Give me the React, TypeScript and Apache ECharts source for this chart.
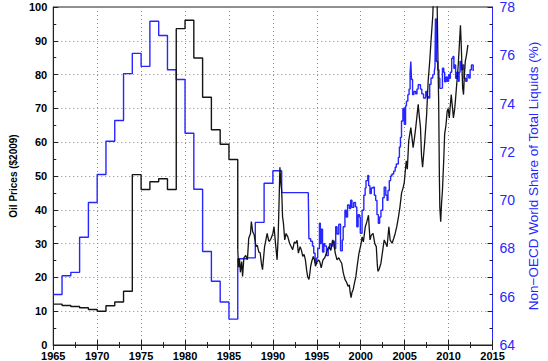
import React, { useEffect, useRef } from "react";
import * as echarts from "echarts";

// Annual oil prices ($2009), each value held from Jan 1 of the year to the next year
const oilAnnualYears = [1965, 1966, 1967, 1968, 1969, 1970, 1971, 1972, 1973, 1974, 1975, 1976, 1977, 1978, 1979, 1980, 1981, 1982, 1983, 1984, 1985];
const oilAnnualValues = [12.1, 11.7, 11.4, 11.0, 10.5, 10.0, 11.6, 12.7, 15.9, 50.4, 46.0, 48.3, 49.2, 46.0, 93.6, 96.1, 84.9, 73.3, 63.7, 59.4, 54.9];

// Monthly-ish oil prices from 1986 on: [year, $2009]
const oilMonthly: [number, number][] = [
  [1986.0, 28.2], [1986.1, 23], [1986.2, 25.5], [1986.3, 21.5], [1986.45, 24.7], [1986.55, 20.3], [1986.7, 25.8], [1986.9, 26.5],
  [1987.1, 25.2], [1987.25, 31.6], [1987.45, 33], [1987.55, 36.5], [1987.7, 33.5], [1987.87, 32.6], [1988.08, 29.1], [1988.23, 29.5],
  [1988.4, 27.5], [1988.55, 27.3], [1988.7, 24], [1988.82, 22.3], [1989.05, 29], [1989.2, 31], [1989.35, 33], [1989.5, 31],
  [1989.6, 30.6], [1989.8, 31.6], [1990.0, 33], [1990.13, 35], [1990.3, 30], [1990.48, 25.2], [1990.6, 32], [1990.7, 42],
  [1990.8, 52.6], [1990.9, 48], [1991.0, 45.7], [1991.1, 38], [1991.2, 36], [1991.35, 31.1], [1991.5, 33], [1991.7, 32],
  [1991.9, 30.1], [1992.1, 29], [1992.25, 28.2], [1992.45, 30.5], [1992.6, 30.1], [1992.75, 31], [1992.9, 27.2], [1993.1, 29.1],
  [1993.25, 28], [1993.4, 26.2], [1993.55, 26.8], [1993.7, 25.2], [1993.85, 22], [1993.95, 20.3], [1994.1, 19.4], [1994.2, 21],
  [1994.3, 23.3], [1994.45, 25], [1994.6, 26.2], [1994.75, 25], [1994.85, 23.3], [1995.0, 24.5], [1995.2, 25.2], [1995.35, 24.5],
  [1995.5, 22.8], [1995.7, 25.2], [1995.9, 25.8], [1996.1, 27.2], [1996.25, 28.5], [1996.4, 29.1], [1996.6, 28], [1996.8, 31.1],
  [1996.94, 30], [1997.1, 27.2], [1997.3, 25.2], [1997.5, 25.8], [1997.65, 25], [1997.83, 24.2], [1998.0, 21.5], [1998.2, 19.4],
  [1998.4, 18.5], [1998.55, 17.4], [1998.7, 17.8], [1998.8, 15.5], [1998.9, 14], [1999.0, 15.5], [1999.15, 16.5], [1999.3, 18.5],
  [1999.45, 20.3], [1999.6, 23.5], [1999.8, 27.2], [2000.0, 29.5], [2000.16, 32], [2000.3, 30.5], [2000.52, 35], [2000.7, 36.5],
  [2000.88, 38.4], [2001.05, 31.1], [2001.2, 32.5], [2001.4, 33], [2001.6, 30], [2001.77, 29.1], [2001.88, 24], [2001.95, 21.8],
  [2002.1, 22.5], [2002.3, 24.2], [2002.5, 28], [2002.67, 31.1], [2002.85, 30], [2003.0, 29.1], [2003.2, 35], [2003.35, 31],
  [2003.57, 30.1], [2003.75, 31.5], [2003.92, 33], [2004.1, 35], [2004.3, 38], [2004.46, 40.8], [2004.65, 45], [2004.82, 46.5],
  [2004.95, 48], [2005.18, 54.5], [2005.3, 52], [2005.46, 60.4], [2005.7, 64.3], [2005.96, 58.4], [2006.1, 61], [2006.26, 64.3],
  [2006.54, 71.2], [2006.65, 68], [2006.8, 64.3], [2006.92, 56], [2007.04, 52.6], [2007.26, 59.4], [2007.5, 68.2], [2007.67, 78],
  [2007.85, 83.9], [2008.0, 90], [2008.2, 97.5], [2008.35, 110], [2008.5, 138],
  [2008.6, 125], [2008.7, 100], [2008.8, 82], [2008.87, 72], [2008.95, 50], [2009.0, 40.8], [2009.1, 36.5], [2009.2, 42],
  [2009.3, 45.7], [2009.45, 55], [2009.55, 62.4], [2009.7, 65], [2009.84, 69.2], [2009.95, 70], [2010.08, 67.2], [2010.2, 71],
  [2010.3, 74.1], [2010.45, 70], [2010.55, 67.2], [2010.7, 70], [2010.8, 73.1], [2010.95, 78], [2011.1, 82.9], [2011.25, 90],
  [2011.35, 94.6], [2011.45, 88], [2011.5, 83.9], [2011.6, 76], [2011.7, 74.1], [2011.8, 80], [2011.9, 83.9], [2012.05, 86],
  [2012.2, 88.8],
];

// Non-OECD share of total liquids (%), annual 1965-1990
const shareAnnualYears = [1965, 1966, 1967, 1968, 1969, 1970, 1971, 1972, 1973, 1974, 1975, 1976, 1977, 1978, 1979, 1980, 1981, 1982, 1983, 1984, 1985, 1986, 1987, 1988, 1989, 1990];
const shareAnnualValues = [66.09, 66.87, 67.01, 68.46, 69.9, 71.06, 72.44, 73.3, 75.24, 76.08, 75.54, 77.41, 76.82, 75.4, 75.0, 72.77, 70.45, 67.87, 66.64, 65.78, 65.07, 67.57, 67.61, 69.08, 70.7, 71.22];

// Non-OECD share, 1991 on: [year, %]
const shareMonthly: [number, number][] = [
  [1991.0, 70.31], [1994.03, 70.2], [1994.1, 68.4], [1994.3, 68.3], [1994.5, 68.1], [1994.65, 67.8], [1994.8, 67.4], [1994.95, 67.6],
  [1995.1, 68.0], [1995.3, 69.04], [1995.4, 68.2], [1995.5, 68.8], [1995.65, 67.85], [1995.8, 68.2], [1995.9, 68.1], [1996.1, 67.7],
  [1996.3, 68.0], [1996.45, 68.2], [1996.6, 68.1], [1996.8, 68.3], [1997.0, 68.0], [1997.15, 68.9], [1997.3, 68.6], [1997.5, 69.0],
  [1997.7, 67.9], [1997.9, 68.35], [1998.0, 68.9], [1998.2, 69.58], [1998.35, 69.3], [1998.5, 69.8], [1998.7, 69.65], [1998.85, 70.0],
  [1999.0, 69.7], [1999.2, 69.9], [1999.4, 69.72], [1999.55, 68.9], [1999.7, 69.4], [1999.85, 69.3], [1999.95, 68.63], [2000.15, 69.58],
  [2000.35, 70.2], [2000.5, 70.5], [2000.6, 70.81], [2000.8, 71.02], [2000.9, 70.6], [2001.05, 70.27], [2001.2, 70.5], [2001.4, 70.54],
  [2001.55, 70.2], [2001.7, 69.99], [2001.85, 69.4], [2002.0, 69.04], [2002.15, 69.3], [2002.3, 69.58], [2002.5, 70.1], [2002.67, 70.54],
  [2002.85, 70.2], [2003.0, 69.99], [2003.1, 70.4], [2003.25, 70.81], [2003.4, 71.0], [2003.55, 71.08], [2003.75, 71.2], [2003.92, 71.36],
  [2004.05, 71.5], [2004.28, 71.77], [2004.4, 72.2], [2004.52, 72.6], [2004.64, 73.28], [2004.8, 73.8], [2004.96, 73.14], [2005.1, 73.9],
  [2005.2, 74.1], [2005.36, 74.37], [2005.5, 74.6], [2005.62, 75.3], [2005.7, 75.74], [2005.78, 75.0], [2005.9, 74.37], [2006.05, 74.5],
  [2006.26, 74.4], [2006.4, 74.6], [2006.54, 74.78], [2006.8, 74.6], [2006.95, 74.4], [2007.15, 74.23], [2007.4, 74.5], [2007.55, 74.3],
  [2007.7, 74.23], [2007.85, 74.8], [2008.0, 75.06], [2008.2, 75.2], [2008.37, 75.33], [2008.45, 75.5], [2008.5, 77.5], [2008.6, 75.74],
  [2008.76, 75.4], [2008.9, 75.05],
  [2009.0, 74.63], [2009.1, 74.64], [2009.3, 75.46], [2009.45, 75.3], [2009.55, 74.9], [2009.7, 75.1], [2009.84, 74.92], [2010.0, 75.2],
  [2010.1, 75.05], [2010.2, 75.3], [2010.35, 75.87], [2010.5, 75.95], [2010.6, 75.46], [2010.7, 75.6], [2010.8, 75.05], [2010.95, 75.3],
  [2011.1, 74.92], [2011.2, 75.3], [2011.3, 75.74], [2011.45, 75.4], [2011.6, 75.6], [2011.75, 75.05], [2011.95, 74.92], [2012.1, 75.2],
  [2012.3, 75.06], [2012.45, 75.4], [2012.6, 75.6], [2012.8, 75.35],
];

const leftAxisName = "Oil Prices ($2009)";
const rightAxisName = "Non\u2212OECD World Share of Total Liquids (%)";

const BLUE = "#2626ff";
const BLACK = "#141414";
const FONT = "'Liberation Sans', Arial, Helvetica, sans-serif";

export default function App() {
  const ref = useRef<HTMLDivElement>(null);
  useEffect(() => {
    if (!ref.current) return;
    const chart = echarts.init(ref.current, undefined, { renderer: "svg" });

    const oilAnnualData: [number, number][] = oilAnnualYears.map((y, i) => [y, oilAnnualValues[i]]);
    oilAnnualData.push(oilMonthly[0]);
    const shareData: [number, number][] = shareAnnualYears
      .map((y, i) => [y, shareAnnualValues[i]] as [number, number])
      .concat(shareMonthly);

    const gridLine = { show: true, lineStyle: { color: "#8a8a8a", type: [1, 3] as any, width: 1 } };
    const tick = { show: true, inside: true, length: 5, lineStyle: { color: "#222" } };
    const minor = { show: true, splitNumber: 2, length: 3, lineStyle: { color: "#222" } };

    chart.setOption({
      animation: false,
      backgroundColor: "#ffffff",
      grid: { left: 38, right: 45, top: 5, bottom: 15, show: true, borderColor: "#222", borderWidth: 1, backgroundColor: "transparent" },
      xAxis: [
        {
          type: "value",
          min: 1965,
          max: 2015,
          interval: 5,
          position: "bottom",
          axisLine: { show: true, lineStyle: { color: "#222", width: 1 } },
          axisTick: tick,
          minorTick: minor,
          axisLabel: { color: "#000", fontSize: 11, fontWeight: "bold", fontFamily: FONT, margin: 5, formatter: (v: number) => String(v) },
          splitLine: gridLine,
        },
        {
          type: "value",
          min: 1965,
          max: 2015,
          interval: 5,
          position: "top",
          axisLine: { show: true, lineStyle: { color: "#222", width: 1 } },
          axisTick: tick,
          minorTick: minor,
          axisLabel: { show: false },
          splitLine: { show: false },
        },
      ],
      yAxis: [
        {
          type: "value",
          min: 0,
          max: 100,
          interval: 10,
          position: "left",
          name: leftAxisName,
          nameLocation: "middle",
          nameGap: 28,
          nameRotate: 90,
          nameTextStyle: { color: "#000", fontSize: 10, fontWeight: "bold", fontFamily: FONT },
          axisLine: { show: true, lineStyle: { color: "#222", width: 1 } },
          axisTick: tick,
          minorTick: minor,
          axisLabel: { color: "#000", fontSize: 11, fontWeight: "bold", fontFamily: FONT, margin: 6 },
          splitLine: gridLine,
        },
        {
          type: "value",
          min: 64,
          max: 78,
          interval: 2,
          position: "right",
          name: rightAxisName,
          nameLocation: "middle",
          nameGap: 32,
          nameRotate: 90,
          nameTextStyle: { color: BLUE, fontSize: 13.5, fontFamily: FONT },
          axisLine: { show: true, lineStyle: { color: BLUE, width: 1 } },
          axisTick: { show: false },
          axisLabel: { color: BLUE, fontSize: 14, fontFamily: FONT, margin: 7 },
          splitLine: { show: false },
        },
        {
          type: "value",
          min: 0,
          max: 100,
          interval: 10,
          position: "right",
          axisLine: { show: false },
          axisTick: tick,
          minorTick: minor,
          axisLabel: { show: false },
          splitLine: { show: false },
        },
      ],
      series: [
        {
          type: "line",
          name: "Oil annual",
          xAxisIndex: 0,
          yAxisIndex: 0,
          data: oilAnnualData,
          step: "end",
          showSymbol: false,
          lineStyle: { color: BLACK, width: 1.4 },
          clip: true,
          z: 3,
        },
        {
          type: "line",
          name: "Oil monthly",
          xAxisIndex: 0,
          yAxisIndex: 0,
          data: oilMonthly,
          showSymbol: false,
          lineStyle: { color: BLACK, width: 1.3 },
          clip: true,
          z: 3,
        },
        {
          type: "line",
          name: "Non-OECD share",
          xAxisIndex: 0,
          yAxisIndex: 1,
          data: shareData,
          step: "end",
          showSymbol: false,
          lineStyle: { color: BLUE, width: 1.4 },
          clip: true,
          z: 2,
        },
      ],
    });
    return () => chart.dispose();
  }, []);
  return <div ref={ref} style={{ width: 548, height: 361, position: "absolute", left: 0, top: 0 }} />;
}
